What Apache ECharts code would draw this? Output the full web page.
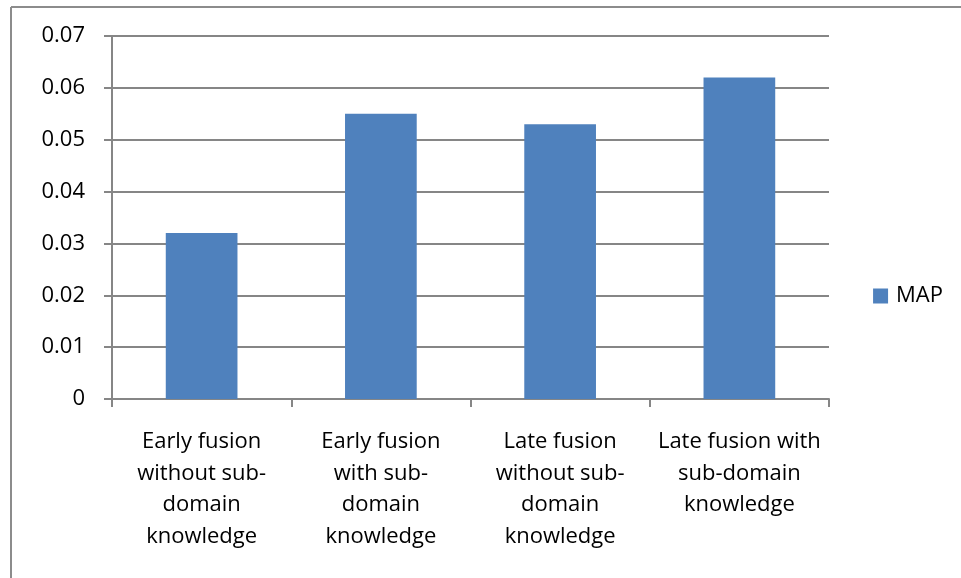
<!DOCTYPE html>
<html>
<head>
<meta charset="utf-8">
<script src="https://cdn.jsdelivr.net/npm/echarts@6/dist/echarts.min.js"></script>
<style>
  html, body { margin: 0; padding: 0; background: #fff; }
  #chart { width: 961px; height: 578px; }
</style>
</head>
<body>
<div id="chart"></div>
<script>
// Fusion strategies compared by mean average precision
const categories = [
  'Early fusion\nwithout sub-\ndomain\nknowledge',
  'Early fusion\nwith sub-\ndomain\nknowledge',
  'Late fusion\nwithout sub-\ndomain\nknowledge',
  'Late fusion with\nsub-domain\nknowledge'
];
const mapValues = [0.032, 0.055, 0.053, 0.062];
const yTicks = { min: 0, max: 0.07, interval: 0.01 };
const seriesName = 'MAP';

const axisGray = '#868686';
const barBlue = '#4f81bd';
const font = '"Open Sans", Lato, sans-serif';
const fontSize = 22;

const chart = echarts.init(document.getElementById('chart'), null, { renderer: 'canvas' });
chart.setOption({
  animation: false,
  backgroundColor: '#ffffff',
  grid: { left: 112, right: 132, top: 36, bottom: 179 },
  legend: {
    data: [seriesName],
    right: 13,
    top: 280,
    orient: 'vertical',
    icon: 'rect',
    itemWidth: 15,
    itemHeight: 15,
    itemGap: 6,
    textStyle: { fontFamily: font, fontSize: fontSize, color: '#000', padding: [0, 0, 0, 3] }
  },
  xAxis: {
    type: 'category',
    data: categories,
    axisLine: { lineStyle: { color: axisGray, width: 2 } },
    axisTick: { show: true, length: 8, lineStyle: { color: axisGray, width: 2 } },
    axisLabel: {
      interval: 0,
      margin: 27,
      fontFamily: font,
      fontSize: fontSize,
      lineHeight: 31.5,
      color: '#000',
      align: 'center'
    }
  },
  yAxis: {
    type: 'value',
    min: yTicks.min,
    max: yTicks.max,
    interval: yTicks.interval,
    axisLine: { show: true, lineStyle: { color: axisGray, width: 2 } },
    axisTick: { show: true, length: 8, lineStyle: { color: axisGray, width: 2 } },
    splitLine: { show: true, lineStyle: { color: axisGray, width: 2 } },
    axisLabel: {
      margin: 27,
      fontFamily: font,
      fontSize: fontSize,
      color: '#000',
      formatter: v => (v === 0 ? '0' : v.toFixed(2))
    }
  },
  series: [{
    name: seriesName,
    type: 'bar',
    data: mapValues,
    barWidth: '40%',
    itemStyle: { color: barBlue }
  }],
  graphic: [
    { type: 'line', shape: { x1: 11, y1: 7, x2: 961, y2: 7 }, style: { stroke: '#8c8c8c', lineWidth: 2 } },
    { type: 'line', shape: { x1: 11, y1: 7, x2: 11, y2: 578 }, style: { stroke: '#8c8c8c', lineWidth: 2 } }
  ]
});
</script>
</body>
</html>
